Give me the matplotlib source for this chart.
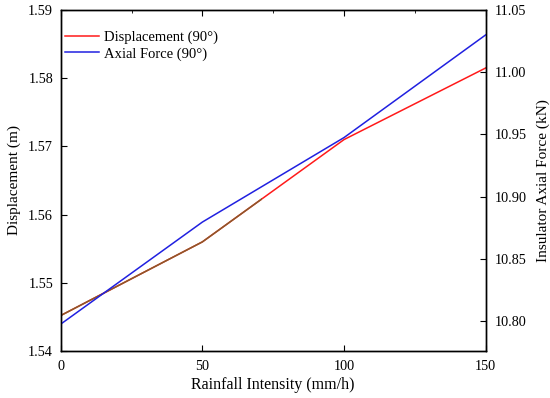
import matplotlib.pyplot as plt
from matplotlib.patches import Rectangle
from matplotlib.ticker import MultipleLocator

plt.rcParams['font.family'] = ['Liberation Serif', 'DejaVu Serif']
plt.rcParams['font.size'] = 10.3

rainfall = [0, 50, 100, 150]
displacement = [1.5452, 1.5560, 1.5710, 1.5815]
axial_force = [10.7976, 10.8796, 10.9475, 11.0300]

fig = plt.figure(figsize=(5.5, 3.98), dpi=100)
ax = fig.add_axes([0.1104, 0.1181, 0.7727, 0.8568])
ax2 = ax.twinx()

ln1, = ax.plot(rainfall, displacement, color='#ff1a1a', lw=1.1, label='Displacement (90°)')
# the original shows a brownish tint on the first part of the red curve
shade, = ax.plot(rainfall, displacement, color='#8a5a2a', lw=1.1)
shade.set_clip_path(Rectangle((0, 1.5), 71, 0.1, transform=ax.transData))

ln2, = ax2.plot(rainfall, axial_force, color='#2020e0', lw=1.1, label='Axial Force (90°)')

ax.set_xlim(0, 150)
ax.set_ylim(1.54, 1.59)
ax2.set_ylim(10.776, 11.05)

ax.set_xticks([0, 50, 100, 150])
ax.set_yticks([1.54, 1.55, 1.56, 1.57, 1.58, 1.59])
ax2.set_yticks([10.80, 10.85, 10.90, 10.95, 11.00, 11.05])
ax2.set_yticklabels(['10.80', '10.85', '10.90', '10.95', '11.00', '11.05'])

ax.xaxis.set_minor_locator(MultipleLocator(25))
ax.tick_params(axis='x', which='both', direction='in', top=True, bottom=True)
ax.tick_params(axis='x', which='major', length=4, pad=6.5)
ax.tick_params(axis='x', which='minor', length=2.5, bottom=False)
ax.tick_params(axis='y', direction='in', length=4, pad=5.5)
ax2.tick_params(axis='y', direction='in', length=4, pad=6.5)

for a in (ax, ax2):
    for s in a.spines.values():
        s.set_linewidth(1.0)

ax.set_xlabel('Rainfall Intensity (mm/h)', fontsize=11.5, labelpad=3)
ax.set_ylabel('Displacement (m)', fontsize=11, labelpad=5)
ax2.set_ylabel('Insulator Axial Force (kN)', fontsize=11, labelpad=7)

ax.legend(handles=[ln1, ln2], loc='upper left', frameon=False,
          bbox_to_anchor=(-0.01, 0.965), handlelength=2.3, handletextpad=0.35,
          labelspacing=0.2, borderaxespad=0.2, fontsize=10.5)

fig.savefig('out.png', dpi=100)
